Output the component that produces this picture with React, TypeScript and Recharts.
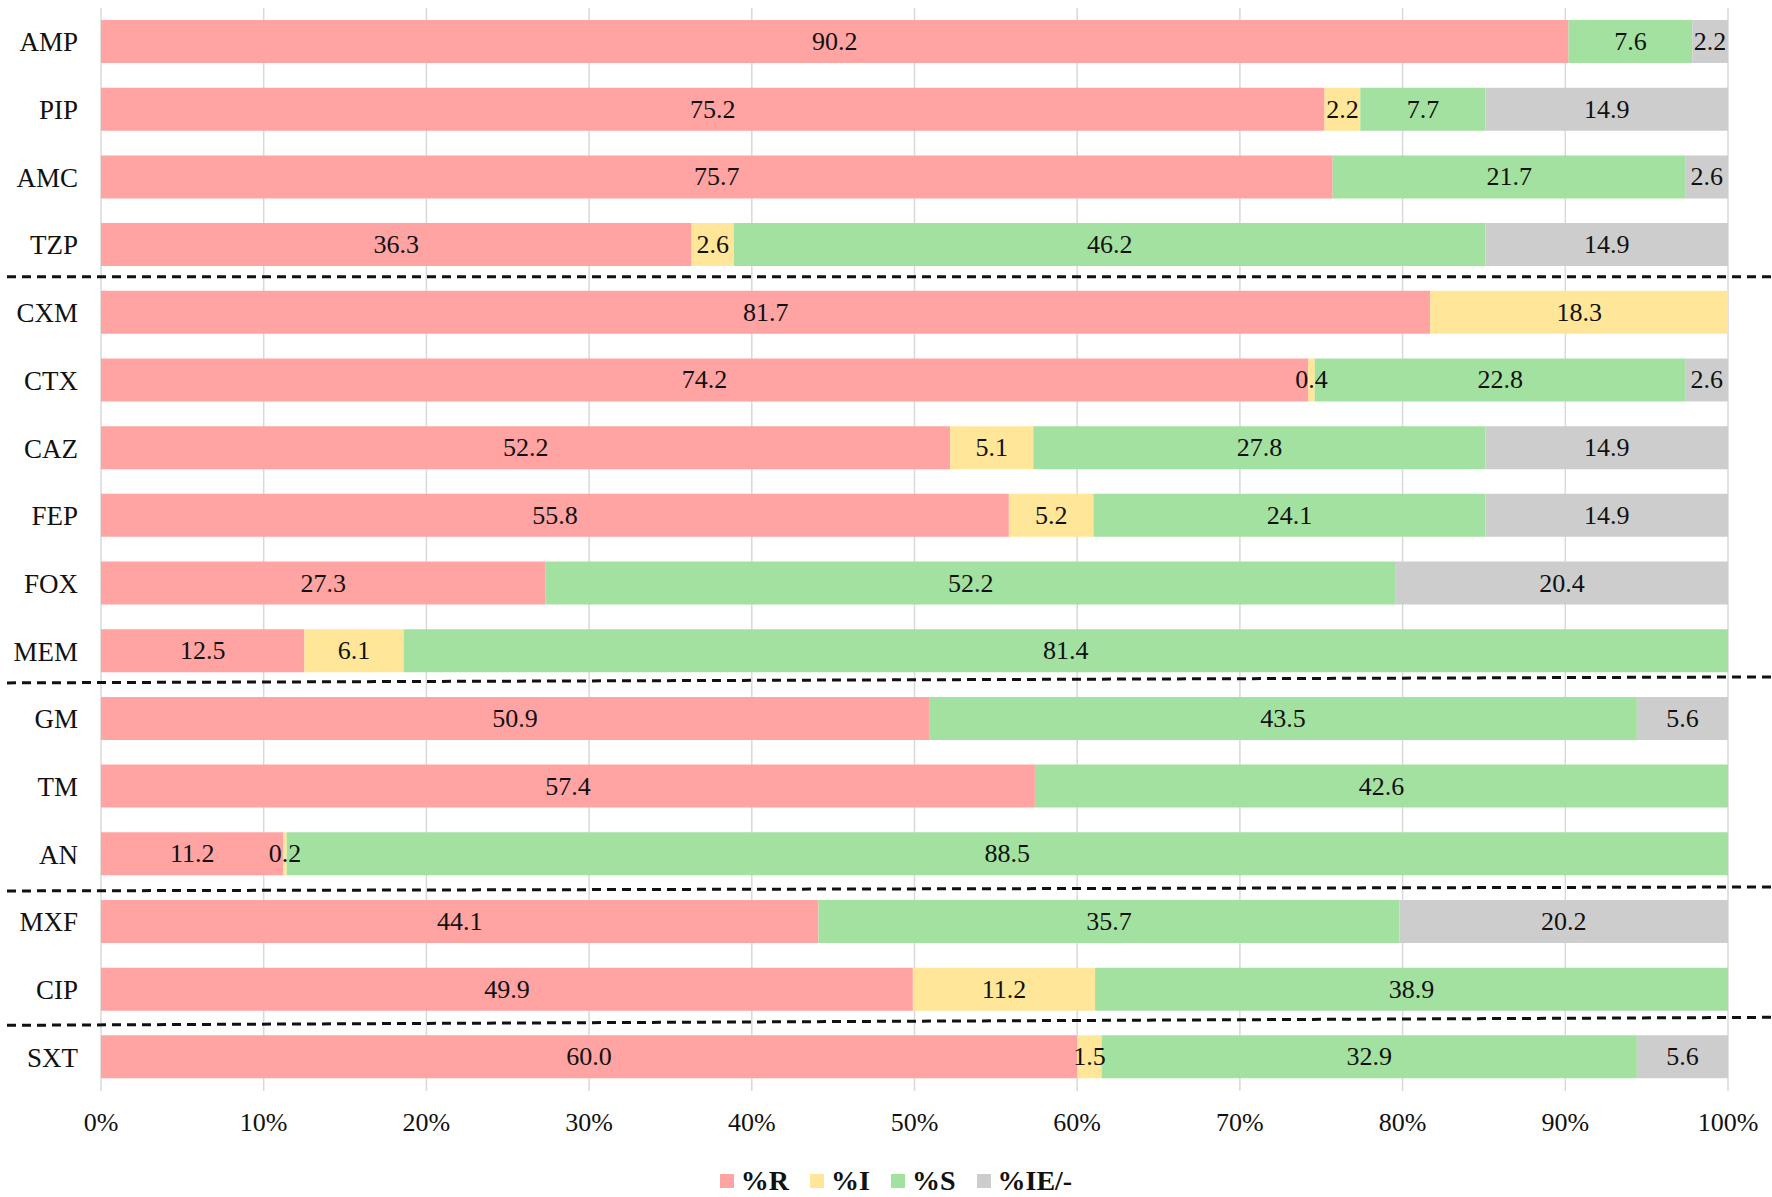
import { Bar, BarChart, CartesianGrid, LabelList, Legend, ReferenceLine, XAxis, YAxis } from "recharts"

const categories = ['AMP', 'PIP', 'AMC', 'TZP', 'CXM', 'CTX', 'CAZ', 'FEP', 'FOX', 'MEM', 'GM', 'TM', 'AN', 'MXF', 'CIP', 'SXT'];
const resistant = [90.2, 75.2, 75.7, 36.3, 81.7, 74.2, 52.2, 55.8, 27.3, 12.5, 50.9, 57.4, 11.2, 44.1, 49.9, 60.0];
const intermediate = [0, 2.2, 0, 2.6, 18.3, 0.4, 5.1, 5.2, 0, 6.1, 0, 0, 0.2, 0, 11.2, 1.5];
const susceptible = [7.6, 7.7, 21.7, 46.2, 0, 22.8, 27.8, 24.1, 52.2, 81.4, 43.5, 42.6, 88.5, 35.7, 38.9, 32.9];
const noBreakpoint = [2.2, 14.9, 2.6, 14.9, 0, 2.6, 14.9, 14.9, 20.4, 0, 5.6, 0, 0, 20.2, 0, 5.6];
const xTicks = [0, 0.1, 0.2, 0.3, 0.4, 0.5, 0.6, 0.7, 0.8, 0.9, 1];
const groupStarts = ['CXM', 'GM', 'MXF', 'SXT'];

const data = categories.map((name, i) => ({
    name,
    R: resistant[i],
    I: intermediate[i],
    S: susceptible[i],
    IE: noBreakpoint[i],
}));

const series = [
    { key: 'R', label: '%R', color: '#FFA3A3' },
    { key: 'I', label: '%I', color: '#FFE699' },
    { key: 'S', label: '%S', color: '#A3E1A0' },
    { key: 'IE', label: '%IE/-', color: '#CDCDCD' },
];

// the dividers in the original are hand drawn, slightly skewed
const dividerTilt = [[-2, -2], [-2, -8], [3, -1], [2, -6]];

const FONT = '"Liberation Serif", "Times New Roman", serif';

const renderLabel = (props: any) => {
    const { x, y, width, height, value } = props;
    if (!value) return null;
    return (
        <text x={x + width / 2} y={y + height / 2} textAnchor="middle" dominantBaseline="central"
            fontFamily={FONT} fontSize={26} fill="#111">
            {Number(value).toFixed(1)}
        </text>
    );
};

const LegendBox = () => (
    <div style={{ display: 'flex', justifyContent: 'center', alignItems: 'center', height: 32, paddingLeft: 41, fontFamily: FONT, fontSize: 28, fontWeight: 'bold', color: '#111' }}>
        {series.map(s => (
            <div key={s.key} style={{ display: 'flex', alignItems: 'center', marginRight: 21 }}>
                <span style={{ width: 14, height: 14, background: s.color, marginRight: 7, display: 'inline-block' }} />
                <span>{s.label}</span>
            </div>
        ))}
    </div>
);

const App = () => {
    return (
        <div style={{ position: 'absolute', left: 0, top: 0, background: '#fff' }}>
            <BarChart width={1772} height={1197} data={data} layout="vertical" stackOffset="expand"
                margin={{ top: 8, right: 44, bottom: 0, left: 0 }}>
                <CartesianGrid horizontal={false} stroke="#D9D9D9" strokeWidth={1.5} />
                <XAxis type="number" domain={[0, 1]} ticks={xTicks} axisLine={false} tickLine={false}
                    tickSize={0} tickMargin={22} height={74}
                    tick={{ fontFamily: FONT, fontSize: 26, fill: '#111' }}
                    tickFormatter={(v: number) => `${Math.round(v * 100)}%`} />
                <YAxis type="category" dataKey="name" width={101} axisLine={false} tickLine={false}
                    tickSize={0} tickMargin={23} interval={0}
                    tick={{ fontFamily: FONT, fontSize: 27, fill: '#111' }} />
                {series.map(s => (
                    <Bar key={s.key} dataKey={s.key} name={s.label} stackId="a" fill={s.color}
                        barSize={43} isAnimationActive={false}>
                        <LabelList content={renderLabel}
                            valueAccessor={(entry: any) => entry?.payload?.[s.key]} />
                    </Bar>
                ))}
                {groupStarts.map((c, i) => (
                    <ReferenceLine key={c} y={c} position="start" ifOverflow="visible"
                        shape={(p: any) => (
                            <line x1={7} y1={p.y1 + dividerTilt[i][0]} x2={1772} y2={p.y2 + dividerTilt[i][1]}
                                stroke="#111" strokeWidth={3} strokeDasharray="9 6" />
                        )} />
                ))}
                <Legend verticalAlign="bottom" wrapperStyle={{ left: 0, width: 1772 }} content={() => <LegendBox />} />
            </BarChart>
        </div>
    )
}

export default App
